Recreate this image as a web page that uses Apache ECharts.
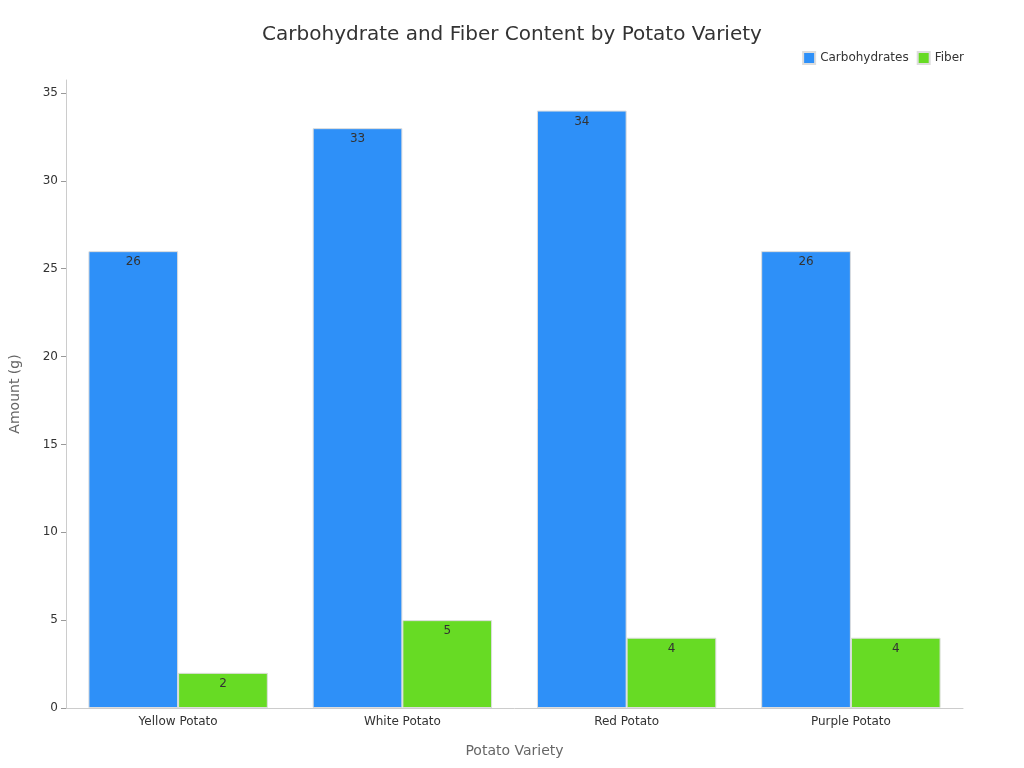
<!DOCTYPE html>
<html><head><meta charset="utf-8">
<script src="https://cdn.jsdelivr.net/npm/echarts@6/dist/echarts.min.js"></script>
<style>html,body{margin:0;padding:0}#c{width:1024px;height:768px}</style>
</head><body><div id="c"></div>
<script>
const categories = ['Yellow Potato','White Potato','Red Potato','Purple Potato'];
const carbohydrates = [26,33,34,26];
const fiber = [2,5,4,4];
const chart = echarts.init(document.getElementById('c'));
const lbl = {show:true,position:'insideTop',color:'#333',fontSize:12,fontFamily:'DejaVu Sans'};
chart.setOption({
  textStyle:{fontFamily:'DejaVu Sans'},
  title:{text:'Carbohydrate and Fiber Content by Potato Variety',left:'center',top:20,textStyle:{fontSize:20,fontWeight:'normal',color:'#333'}},
  legend:{top:46,right:55,itemWidth:12,itemHeight:12,icon:'rect',textStyle:{fontSize:12,color:'#333'},data:['Carbohydrates','Fiber']},
  grid:{left:60,right:61,top:80,bottom:60},
  xAxis:{type:'category',data:categories,name:'Potato Variety',nameLocation:'middle',nameGap:36,
    nameTextStyle:{fontSize:14,color:'#666'},axisLine:{lineStyle:{color:'#ccc'}},axisTick:{show:false},
    axisLabel:{color:'#333',fontSize:12}},
  yAxis:{type:'value',min:0,max:35.74,interval:5,name:'Amount (g)',nameLocation:'middle',nameGap:44,
    nameTextStyle:{fontSize:14,color:'#666'},axisLine:{show:true,lineStyle:{color:'#ccc'}},
    axisTick:{show:true,lineStyle:{color:'#999'}},splitLine:{show:false},
    axisLabel:{color:'#333',fontSize:12,showMaxLabel:false}},
  series:[
    {name:'Carbohydrates',type:'bar',data:carbohydrates,barGap:'0%',barCategoryGap:'20%',
      itemStyle:{color:'#2e90f8',borderColor:'#ddd',borderWidth:1},label:lbl},
    {name:'Fiber',type:'bar',data:fiber,
      itemStyle:{color:'#67db24',borderColor:'#ddd',borderWidth:1},label:lbl}
  ]
});
</script></body></html>
